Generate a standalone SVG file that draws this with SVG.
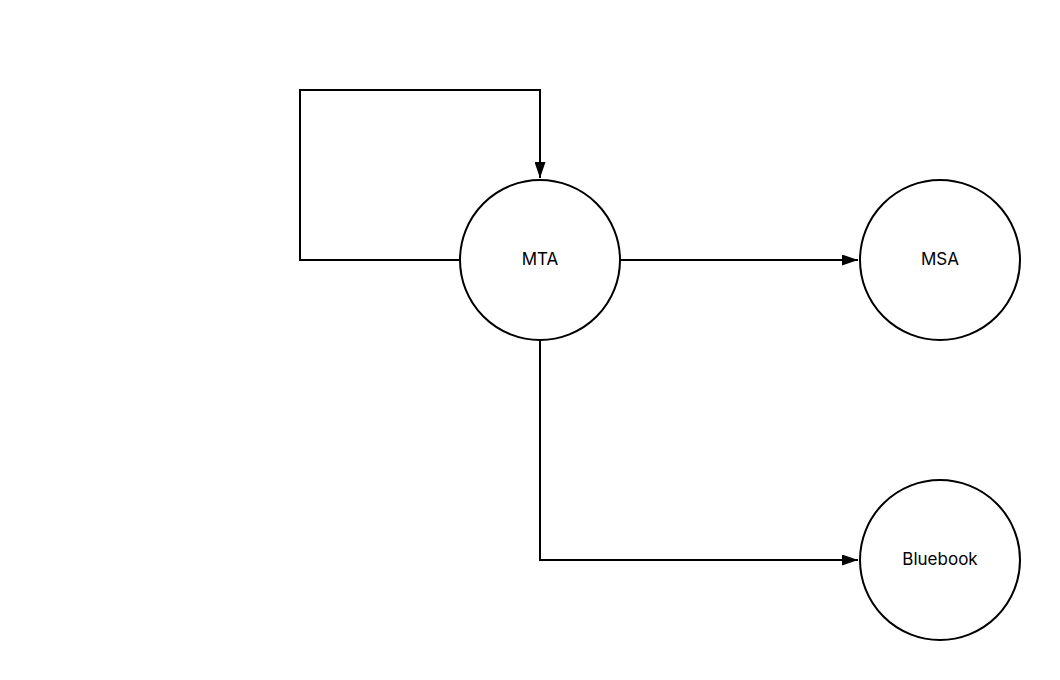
<svg xmlns="http://www.w3.org/2000/svg" width="1060" height="680" viewBox="0 0 1060 680">
<defs>
<style>
.node{fill:#fff;stroke:#000;stroke-width:2}
.lbl{font-family:Inter,"Liberation Sans",sans-serif;font-size:17px;fill:#000;text-anchor:middle;dominant-baseline:central}
.edge{fill:none;stroke:#000;stroke-width:2}
</style>
<marker id="arr" markerWidth="16" markerHeight="11" refX="16" refY="5.5" orient="auto" markerUnits="userSpaceOnUse">
<path d="M0,0 L16,5.5 L0,11 Z" fill="#000"/>
</marker>
</defs>
<rect width="1060" height="680" fill="#fff"/>
<g id="connectors">
<path class="edge" d="M460,260 H300 V90 H540 V178" marker-end="url(#arr)"/>
<path class="edge" d="M620,260 H858" marker-end="url(#arr)"/>
<path class="edge" d="M540,340 V560 H858" marker-end="url(#arr)"/>
</g>
<g id="MTA"><circle class="node" cx="540" cy="260" r="80"/><text class="lbl" x="540" y="259">MTA</text></g>
<g id="MSA"><circle class="node" cx="940" cy="260" r="80"/><text class="lbl" x="940" y="259">MSA</text></g>
<g id="Bluebook"><circle class="node" cx="940" cy="560" r="80"/><text class="lbl" x="940" y="559">Bluebook</text></g>
</svg>
